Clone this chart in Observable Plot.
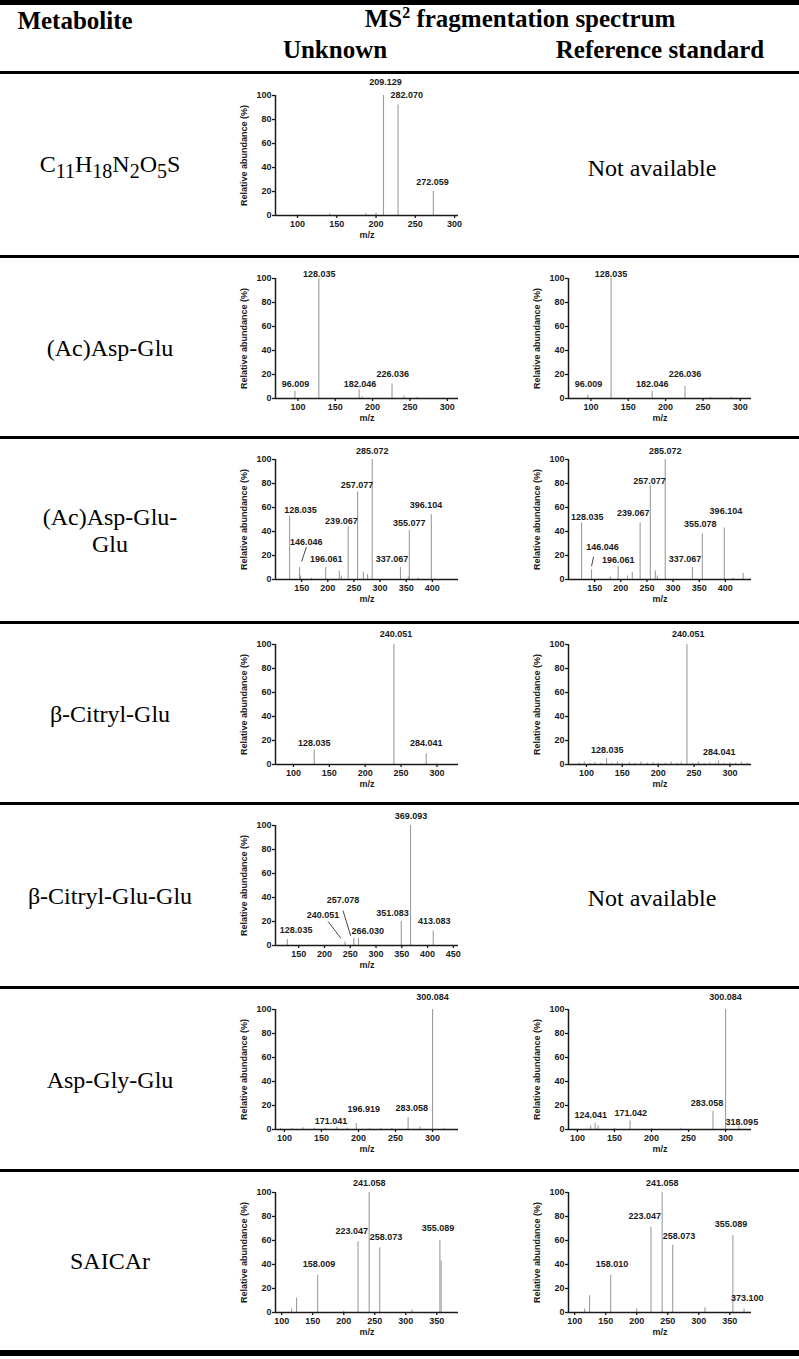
<!DOCTYPE html>
<html><head><meta charset="utf-8">
<script src="https://cdn.jsdelivr.net/npm/d3@7"></script>
<script src="https://cdn.jsdelivr.net/npm/@observablehq/plot@0.6"></script>
<style>
body{margin:0;background:#fff;}
#page{position:relative;width:799px;height:1359px;overflow:hidden;background:#fff;}
.rule{position:absolute;left:0;width:799px;background:#000;}
.t{position:absolute;font-family:"Liberation Serif","Times New Roman",serif;color:#000;white-space:nowrap;transform:translate(-50%,-50%);text-align:center;line-height:1.15;}
.h{font-weight:bold;font-size:25px;}
.n{font-size:24px;}
.panel{position:absolute;}
</style></head>
<body><div id="page"></div>
<script>
// ---------- text content ----------
const metabolites = ["C<sub>11</sub>H<sub>18</sub>N<sub>2</sub>O<sub>5</sub>S", "(Ac)Asp-Glu", "(Ac)Asp-Glu-<br>Glu", "β-Citryl-Glu", "β-Citryl-Glu-Glu", "Asp-Gly-Glu", "SAICAr"];
const headers = ["Metabolite", "MS<sup style='font-size:16px'>2</sup> fragmentation spectrum", "Unknown", "Reference standard"];
const notAvailable = "Not available";
const yTicks = [0, 20, 40, 60, 80, 100];

// ---------- peaks: [m/z, relative abundance %] ----------
const r1u = [[100,0.5],[141,1.5],[187,1.5],[200,2],[209.5,100],[228,92],[273,20]];
const r2u = [[96,6],[128,100],[182,7],[186,1.5],[226,12],[242,2],[260,1]];
const r2r = [[96,3],[127,100],[182,6],[226,10],[260,1],[288,1]];
const r3u = [[127,53],[146,10],[148,3],[169,1],[196,10],[222,7],[226,3],[239,44],[257,73],[268,6],[276,4],[285,100],[339,10],[354,2],[356,41],[373,1],[398,54]];
const r3r = [[125,47],[144,8],[180,2],[195,11],[213,3],[222,6],[237,47],[256.5,78],[266,7],[270,3],[285,100],[337,10],[356,38],[398,43],[415,1],[434,5]];
const r4u = [[129,12],[240,100],[285,9]];
const r4r = [[90,1],[97,2],[105,1],[112,1.5],[120,1],[128,5],[135,1],[143,2],[150,1],[160,1.5],[168,1],[176,2],[185,1],[193,1.5],[200,1],[210,1],[218,2],[226,1],[232,1.5],[240,100],[248,1],[256,2],[264,1],[272,1.5],[280,1],[284,3],[292,1],[300,1.5],[308,1],[316,2],[324,1]];
const r5u = [[128,5],[240,3],[257,6],[266,6],[349,20],[367,100],[411,12]];
const r6u = [[95,1],[110,1],[125,1.5],[140,1],[155,1],[171,2],[185,1],[197,5],[215,1],[230,1],[245,1],[267,10],[283,2],[300,100],[315,1]];
const r6r = [[118,3],[124,5],[128,3],[150,1],[171,7],[200,1],[240,1],[283,15],[300,100],[318,3]];
const r7u = [[116,3],[124,12],[158,31],[200,1],[223,59],[241,100],[258,54],[310,2],[355,60],[357,43]];
const r7r = [[116,3],[124,14],[158,31],[200,3],[223,71],[241,100],[258,56],[310,4],[355,64],[373,3]];

// ---------- peak labels: [text, m/z, abundance] (where the label text sits) ----------
const l1u = [["209.129",212,111],["282.070",239,100],["272.059",272,27.5]];
const l2u = [["128.035",128.7,104],["96.009",96.7,11.7],["182.046",183,11.7],["226.036",227,20]];
const l2r = [["128.035",127,104],["96.009",96.7,11.7],["182.046",182,11.7],["226.036",226,20]];
const l3u = [["128.035",148,58],["146.046",159,31],["196.061",197,17],["239.067",226,49],["257.077",256,79],["285.072",285,107],["337.067",323,17],["355.077",356,47],["396.104",388,62]];
const l3r = [["128.035",136,52],["146.046",165,27],["196.061",195,16],["239.067",224,55],["257.077",255,82],["285.072",285,107],["337.067",323,17],["355.078",352,46],["396.104",401,57]];
const l4u = [["128.035",129,18],["240.051",243,109],["284.041",285,17.5]];
const l4r = [["128.035",129,12],["240.051",242,109],["284.041",285,10]];
const l5u = [["128.035",145,13],["240.051",197,25],["257.078",236,37.5],["266.030",284,12],["351.083",332,27],["369.093",368,107.5],["413.083",413,20]];
const l6u = [["171.041",163,7],["196.919",207,17],["283.058",272,18],["300.084",300,110]];
const l6r = [["124.041",118,12],["171.042",172,14],["283.058",275,22],["300.084",300,110],["318.095",322,6]];
const l7u = [["158.009",160,40],["223.047",213,68],["241.058",241,108],["258.073",268,63],["355.089",352,70]];
const l7r = [["158.010",160,40],["223.047",213,80],["241.058",241,108],["258.073",268,64],["355.089",352,74],["373.100",378,12]];

// ---------- leader lines: [m/z1, ab1, m/z2, ab2] ----------
const k3u = [[159,27,150,15]];
const k3r = [[148,19,144,11]];
const k5u = [[207,20,232,6],[236,29,251,8]];

// ---------- axes ----------
const dom = {
  r1:[72,305], r2:[70,315], r3:[100,450], r4:[75,330], r5:[105,460], r6:[88,335], r7:[90,385]
};
const ticks = {
  r1:[100,150,200,250,300], r2:[100,150,200,250,300], r3:[150,200,250,300,350,400],
  r4:[100,150,200,250,300], r5:[150,200,250,300,350,400,450], r6:[100,150,200,250,300],
  r7:[100,150,200,250,300,350]
};

// ---------- layout ----------
const rowTops = [73, 256, 437, 622, 803, 987, 1170];
const rowBottom = 1350;
const page = document.getElementById("page");

function rule(top, h){ const d=document.createElement("div"); d.className="rule"; d.style.top=top+"px"; d.style.height=h+"px"; page.appendChild(d); }
function text(html, x, y, cls){ const d=document.createElement("div"); d.className="t "+cls; d.innerHTML=html; d.style.left=x+"px"; d.style.top=y+"px"; page.appendChild(d); }

rule(0,5); rule(71,3);
rowTops.slice(1).forEach(t=>rule(t-1,3));
rule(rowBottom,6);

text(headers[0], 75, 21, "h");
text(headers[1], 520, 19, "h");
text(headers[2], 335, 50, "h");
text(headers[3], 660, 50, "h");

function panel(peaks, labels, leaders, key, left, top){
  const ink = "#1a1a1a";
  const p = Plot.plot({
    width: 235, height: 182,
    marginLeft: 40, marginRight: 12, marginTop: 22, marginBottom: 40,
    style: {fontFamily:"'Liberation Sans', Arial, sans-serif", fontSize:"9px", fontWeight:"bold", overflow:"visible", background:"transparent", color: ink},
    x: {domain: dom[key]},
    y: {domain: [0,100]},
    marks: [
      Plot.ruleX(peaks, {x: d=>d[0], y1: 0, y2: d=>d[1], stroke: "#9c9c9c", strokeWidth: 1.1}),
      Plot.ruleY([0], {stroke: ink, strokeWidth: 1.5}),
      Plot.ruleX([dom[key][0]], {y1: 0, y2: 100, stroke: ink, strokeWidth: 1.5}),
      Plot.axisX({ticks: ticks[key], tickSize: 3, tickPadding: 2, strokeWidth: 1.3, label: "m/z", labelAnchor: "center", labelArrow: "none", labelOffset: 22}),
      Plot.axisY({ticks: yTicks, tickSize: 3, tickPadding: 1, strokeWidth: 1.3, label: "Relative abundance (%)", labelAnchor: "center", labelArrow: "none", labelOffset: 35}),
      Plot.link(leaders, {x1: d=>d[0], y1: d=>d[1], x2: d=>d[2], y2: d=>d[3], stroke: ink, strokeWidth: 0.8}),
      Plot.text(labels, {x: d=>d[1], y: d=>d[2], text: d=>d[0], fill: ink, fontSize: 9, fontWeight: "bold", clip: false})
    ]
  });
  const d=document.createElement("div"); d.className="panel"; d.style.left=left+"px"; d.style.top=top+"px";
  d.appendChild(p); page.appendChild(d);
}

const U = 235, R = 528;
const rowMid = i => ((rowTops[i]) + (i<6 ? rowTops[i+1] : rowBottom))/2;
metabolites.forEach((m,i)=> text(m, 110, rowMid(i)+2, "n"));

panel(r1u, l1u, [], "r1", U, rowTops[0]);
text(notAvailable, 652, rowMid(0)+4, "n");
panel(r2u, l2u, [], "r2", U, rowTops[1]);
panel(r2r, l2r, [], "r2", R, rowTops[1]);
panel(r3u, l3u, k3u, "r3", U, rowTops[2]);
panel(r3r, l3r, k3r, "r3", R, rowTops[2]);
panel(r4u, l4u, [], "r4", U, rowTops[3]);
panel(r4r, l4r, [], "r4", R, rowTops[3]);
panel(r5u, l5u, k5u, "r5", U, rowTops[4]);
text(notAvailable, 652, rowMid(4)+4, "n");
panel(r6u, l6u, [], "r6", U, rowTops[5]);
panel(r6r, l6r, [], "r6", R, rowTops[5]);
panel(r7u, l7u, [], "r7", U, rowTops[6]);
panel(r7r, l7r, [], "r7", R, rowTops[6]);
</script></body></html>
